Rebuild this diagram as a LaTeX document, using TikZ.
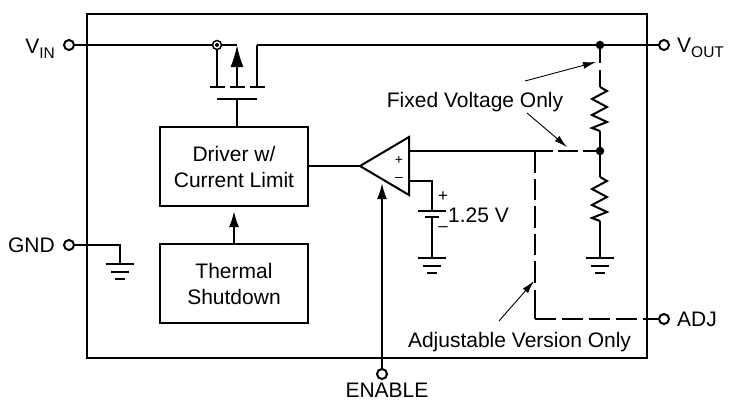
\documentclass[tikz,border=0pt]{standalone}
\usepackage{fontspec}
\setmainfont{Liberation Sans}
\usetikzlibrary{arrows.meta}
\newcommand{\subtxt}[1]{\raisebox{-5pt}{\fontsize{15.5}{16}\selectfont #1}}
\tikzset{
  wire/.style={line width=2pt},
  dashwire/.style={line width=2pt,dash pattern=on 21pt off 6pt},
  bigtip/.style={-{Latex[length=16pt,width=10pt]}},
  fettip/.style={-{Latex[length=22pt,width=13pt]}},
  thintip/.style={line width=0.9pt,-{Latex[length=13pt,width=7pt]}},
  block/.style={draw=black,line width=2pt,minimum width=148pt,minimum height=79pt,inner sep=0pt,align=center,font=\fontsize{21}{26}\selectfont},
  term/.style={draw=black,circle,fill=white,line width=2pt,minimum size=10pt,inner sep=0pt},
  junc/.style={fill=black,circle,minimum size=8.5pt,inner sep=0pt},
  txt/.style={inner sep=0pt,font=\fontsize{21}{26}\selectfont},
  sign/.style={inner sep=0pt,font=\fontsize{17}{20}\selectfont},
  smallsign/.style={inner sep=0pt,font=\fontsize{14}{16}\selectfont},
  ground/.pic={
    \draw[wire] (-14,0) -- (14,0);
    \draw[wire] (-9,8) -- (9,8);
    \draw[wire] (-5,15) -- (5,15);
  },
  zigzag/.pic={
    \draw[wire,line join=miter] (0,0) -- (7,4) -- (-8,12) -- (7,20) -- (-8,28) -- (7,35) -- (-8,41) -- (0,44);
  }
}
\begin{document}
\begin{tikzpicture}[x=1pt,y=-1pt]
\useasboundingbox (0,0) rectangle (729,400);
\draw[wire] (87,14) rectangle (647,358);

\coordinate (src) at (217,45);
\coordinate (ch) at (237,45);
\coordinate (dn) at (257,45);
\coordinate (srcb) at (217,87);
\coordinate (chb) at (237,87);
\coordinate (dnb) at (257,87);
\coordinate (gt) at (237,99);
\coordinate (ap) at (360,166);
\coordinate (ot) at (409,137);
\coordinate (ob) at (409,195);
\coordinate (op) at (409,151);
\coordinate (om) at (409,181);
\coordinate (bc) at (432,181);
\coordinate (bt) at (432,211);
\coordinate (bb) at (432,217);
\coordinate (bg) at (432,258);
\coordinate (rg) at (600,258);
\coordinate (gg) at (120,264);
\coordinate (gc) at (120,245);
\coordinate (tap) at (535,151);
\coordinate (cor) at (535,319);
\coordinate (vd) at (535,284);
\coordinate (vs) at (535,290);
\coordinate (solid) at (553,151);
\coordinate (dash1) at (558,151);
\coordinate (r1a) at (600,87);
\coordinate (r1b) at (600,131);
\coordinate (r2a) at (600,177);
\coordinate (r2b) at (600,221);
\coordinate (ent) at (382,183);
\coordinate (fd1) at (600,70);
\coordinate (fd0) at (600,63);

\node (vin)[term] at (69,45) {};
\node (vout)[term] at (664,45) {};
\node (gnd)[term] at (69,245) {};
\node (adj)[term] at (664,319) {};
\node (en)[term] at (382,374) {};
\node (vinl)[txt,anchor=base east] at (55,53) {V\subtxt{IN}};
\node (voutl)[txt,anchor=base west] at (677,52) {V\subtxt{OUT}};
\node (gndl)[txt,anchor=base east] at (55,252) {GND};
\node (adjl)[txt,anchor=base west] at (677,326) {ADJ};
\node (enl)[txt,anchor=base] at (387,397.5) {ENABLE};

\node (drv)[block] at (234,166.5) {Driver w/\\Current Limit};
\node (thm)[block] at (234,283.5) {Thermal\\Shutdown};

\node (fixl)[txt,anchor=base] at (475,107) {Fixed Voltage Only};
\node (adjv)[txt,anchor=base] at (519.5,347) {Adjustable Version Only};
\node (batl)[txt,anchor=base west] at (448,222) {1.25 V};
\node (pl)[smallsign] at (399,160) {+};
\node (mn)[smallsign] at (399,179) {--};
\node (bp)[sign] at (443,197) {+};
\node (bm)[sign] at (443,229) {--};

\node (jtop)[junc] at (600,45) {};
\node (jmid)[junc] at (600,151) {};

% top rail and pass device
\draw[wire] (vin) -- (ch);
\draw[wire] (dn) -- (vout);
\draw[wire] (src) -- (srcb);
\draw[wire] (dn) -- (dnb);
\draw[wire,fettip] (chb) -- (ch);
\draw[wire] (210,87) -- (225,87);
\draw[wire] (230,87) -- (245,87);
\draw[wire] (250,87) -- (265,87);
\draw[wire] (217,99) -- (257,99);
\draw[wire] (gt) -- (drv.north -| gt);
\node (srcd)[term,minimum size=9pt,line width=1.5pt] at (src) {};
\fill (src) circle (2pt);

\coordinate (tipd) at (234,211);
\draw[wire,bigtip] (thm.north) -- (tipd);
\draw[wire] (drv.east |- ap) -- (ap);
\draw[wire,line join=miter] (ap) -- (ot) -- (ob) -- cycle;

% error amp inputs
\draw[wire] (op) -- (solid);
\draw[wire,dash pattern=on 20pt off 5pt] (dash1) -- (jmid);
\draw[wire] (om) -- (bc) -- (bt);
\draw[wire] (418,211) -- (446,211);
\draw[wire] (425,217) -- (439,217);
\draw[wire] (bb) -- (bg);
\pic at (bg) {ground};

% enable
\draw[wire,bigtip] (en) -- (ent);

% divider
\draw[wire] (jtop) -- (fd0);
\draw[wire] (fd1) -- (r1a);
\pic at (r1a) {zigzag};
\draw[wire] (r1b) -- (jmid);
\draw[wire] (jmid) -- (r2a);
\pic at (r2a) {zigzag};
\draw[wire] (r2b) -- (rg);
\pic at (rg) {ground};

% gnd pin
\draw[wire] (gnd) -- (gc) -- (gg);
\pic at (gg) {ground};

% adjustable path
\draw[wire,dash pattern=on 21.5pt off 6pt] (tap) -- (vd);
\draw[wire] (vs) -- (cor);
\draw[dashwire] (cor) -- (adj);

% callouts
\draw[thintip] (525,81) -- (596,62);
\draw[thintip] (527,113) -- (567,147);
\draw[thintip] (499,321) -- (534,281);
\end{tikzpicture}
\end{document}
